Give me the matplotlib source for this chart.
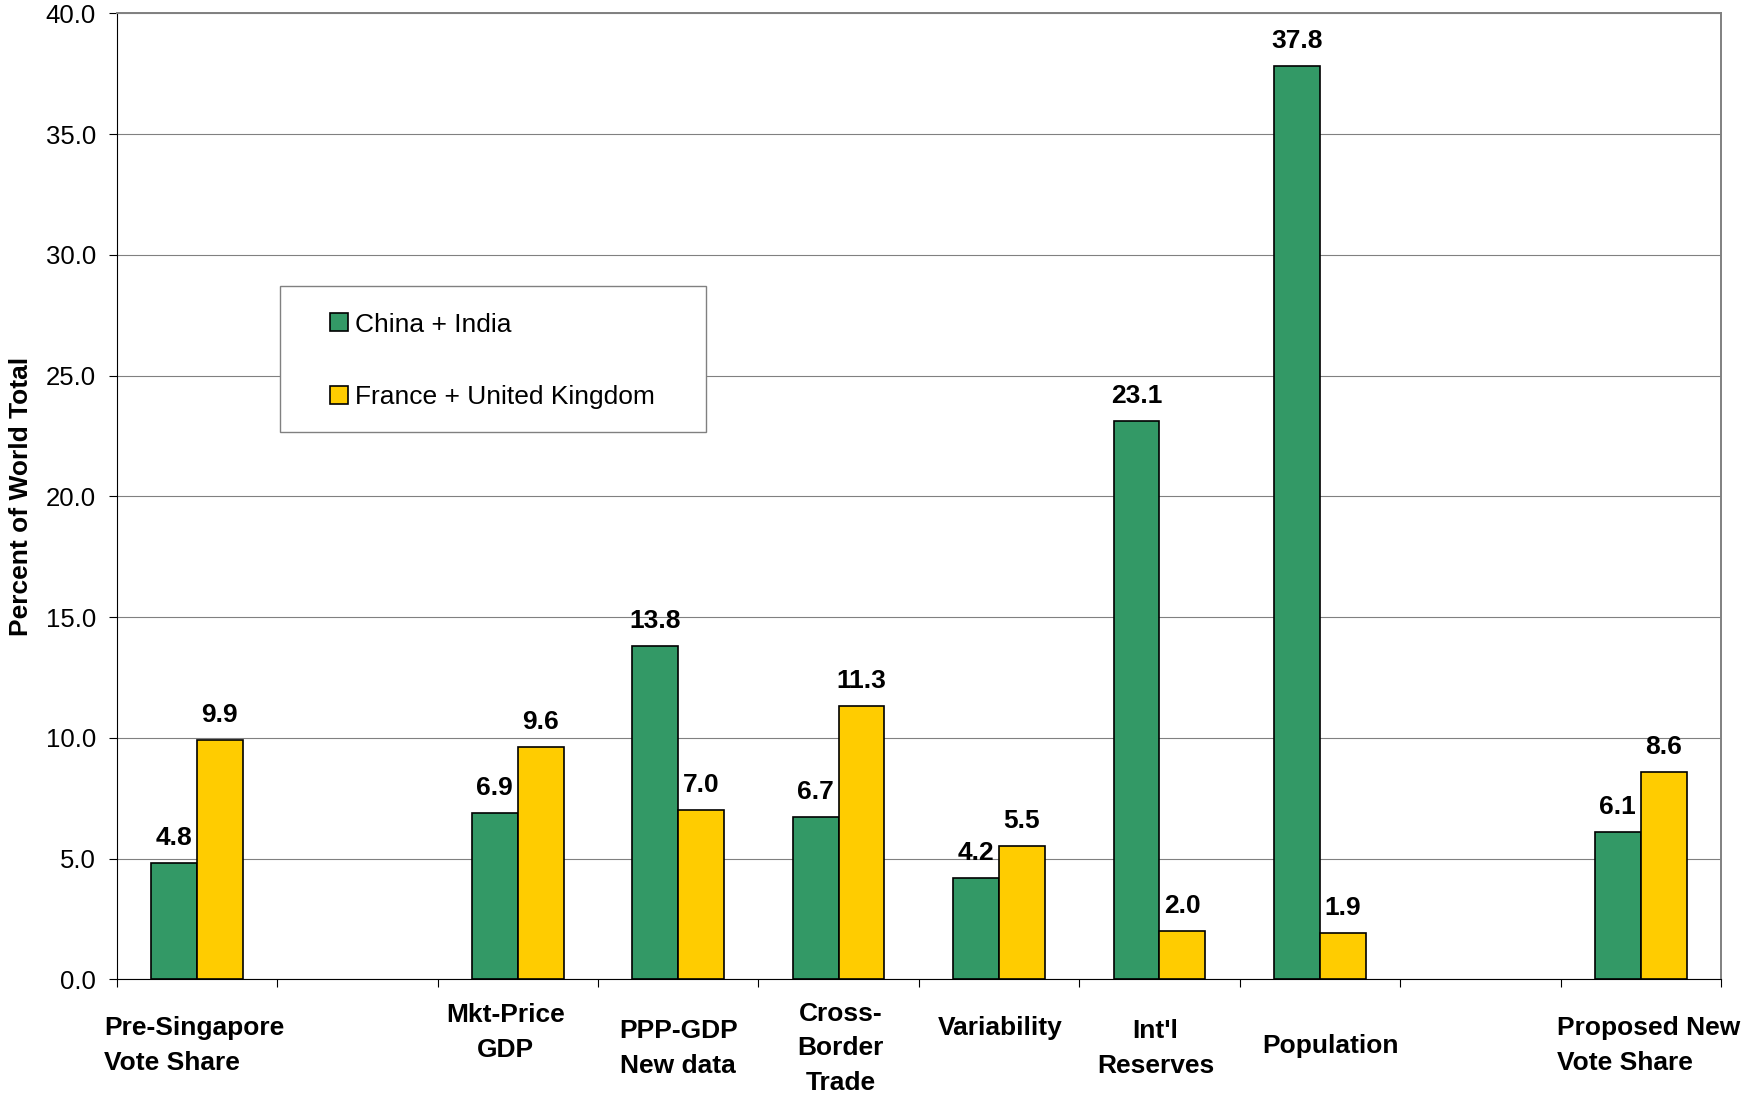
import numpy as np
import matplotlib.pyplot as plt
from matplotlib.patches import Rectangle

plt.rcParams['font.family'] = ['Liberation Sans', 'DejaVu Sans']

# categories (blank slots are left empty on purpose)
categories = ['Pre-Singapore\nVote Share', '', 'Mkt-Price\nGDP', 'PPP-GDP\nNew data',
              'Cross-\nBorder\nTrade', 'Variability', "Int'l\nReserves", 'Population', '',
              'Proposed New\nVote Share']
china_india = [4.8, np.nan, 6.9, 13.8, 6.7, 4.2, 23.1, 37.8, np.nan, 6.1]
france_uk = [9.9, np.nan, 9.6, 7.0, 11.3, 5.5, 2.0, 1.9, np.nan, 8.6]
series_names = ['China + India', 'France + United Kingdom']
series_colors = ['#339966', '#FFCC00']

# category label placement: x shift (px), centre drop below the axis (px), line alignment
label_layout = [(-3, 66, 'left'), (0, 0, 'center'), (-12, 53, 'center'), (0, 69, 'center'),
                (2, 69, 'center'), (1, 49, 'center'), (-4, 69, 'center'), (11, 67, 'center'),
                (0, 0, 'center'), (8, 66, 'left')]

W, H = 1743, 1093
fig = plt.figure(figsize=(W / 100, H / 100), dpi=100)
ax = fig.add_axes([116.7 / W, 1 - 979.3 / H, 1604.3 / W, 966 / H])

x = np.arange(len(categories))
bw = 2 / 7  # two bars plus a 150% gap per slot
bars_ci = ax.bar(x - bw / 2, china_india, bw, color=series_colors[0], edgecolor='black',
                 linewidth=1.2, label=series_names[0], zorder=3)
bars_fu = ax.bar(x + bw / 2, france_uk, bw, color=series_colors[1], edgecolor='black',
                 linewidth=1.2, label=series_names[1], zorder=3)

# value labels above each bar
for vals, offs in ((china_india, -bw / 2), (france_uk, bw / 2)):
    for xi, v in zip(x, vals):
        if np.isnan(v):
            continue
        ax.annotate(f'{v:.1f}', xy=(xi + offs, v), xytext=(0, 13), textcoords='offset points',
                    ha='center', va='baseline', fontsize=19, fontweight='bold', zorder=4)

ax.set_xlim(-0.5, len(categories) - 0.5)
ax.set_ylim(0, 40)
ax.set_yticks(np.arange(0, 40.1, 5))
ax.set_yticklabels([f'{t:.1f}' for t in np.arange(0, 40.1, 5)], fontsize=18.5)
ax.set_xticks(np.arange(-0.5, len(categories), 1))
ax.set_xticklabels([])
ax.tick_params(axis='both', direction='out', length=6, width=0.8, color='black', pad=9)

ax.yaxis.grid(True, color='#808080', linewidth=0.8, zorder=0)
ax.set_axisbelow(True)
for side in ('top', 'right'):
    ax.spines[side].set_color('#808080')
    ax.spines[side].set_linewidth(1.4)
for side in ('left', 'bottom'):
    ax.spines[side].set_color('black')
    ax.spines[side].set_linewidth(0.8)

# category names under the axis
for xi, name, (dx, dy, align) in zip(x, categories, label_layout):
    if not name:
        continue
    ax.annotate(name, xy=(xi, 0), xycoords=('data', 'axes fraction'), xytext=(dx, -dy),
                textcoords='offset pixels', ha='center', va='center', multialignment=align,
                fontsize=19, fontweight='bold', linespacing=1.55, annotation_clip=False)

ax.set_ylabel('Percent of World Total', fontsize=19, fontweight='bold')
ax.yaxis.set_label_coords(-0.052, 0.5)

# legend box with a plain grey border
fig.patches.append(Rectangle((280 / W, 1 - 432 / H), 426 / W, 146 / H, transform=fig.transFigure,
                             facecolor='white', edgecolor='#808080', linewidth=1.0, zorder=5))
leg = fig.legend(handles=[bars_ci, bars_fu], loc='center left',
                 bbox_to_anchor=(330 / W, 1 - 361 / H), frameon=False, fontsize=19,
                 borderpad=0, borderaxespad=0, handlelength=0.68, handleheight=0.68,
                 handletextpad=0.25, labelspacing=1.85)
leg.set_zorder(6)

fig.savefig('out.png', dpi=100)
